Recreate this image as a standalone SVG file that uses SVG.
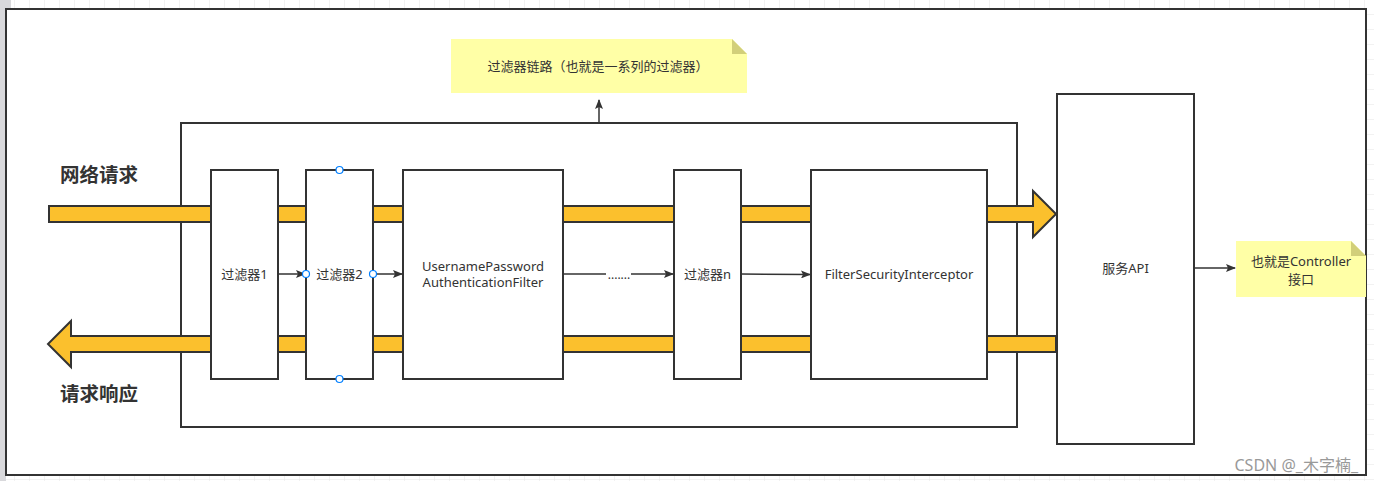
<svg xmlns="http://www.w3.org/2000/svg" width="1374" height="481" viewBox="0 0 1374 481">
<defs>
<style>
.box{fill:#fff;stroke:#333;stroke-width:2}
.band{fill:#fbc02d;stroke:#333;stroke-width:2;stroke-linejoin:miter}
.t{font-family:"Noto Sans","Noto Sans CJK SC",sans-serif;font-size:13px;fill:#333;text-anchor:middle}
.big{font-family:"Noto Sans CJK SC","Noto Sans",sans-serif;font-size:19.5px;font-weight:bold;fill:#333}
.ln{stroke:#333;stroke-width:1.5;fill:none}
.note{fill:#ffffa6}
.fold{fill:#d2cf7a}
.h{fill:#fff;stroke:#007fff;stroke-width:1.2}
</style>
<marker id="ah" markerWidth="10" markerHeight="8" refX="9" refY="4" orient="auto" markerUnits="userSpaceOnUse">
<path d="M0,0 L10,4 L0,8 L2,4 Z" fill="#333"/>
</marker>
<pattern id="grid" width="15" height="15" patternUnits="userSpaceOnUse">
<rect width="15" height="15" fill="#fff"/>
<path d="M15,0 V15 M0,15 H15" stroke="#e6e6e6" stroke-width="1"/>
</pattern>
</defs>
<rect x="0" y="0" width="1374" height="481" fill="url(#grid)"/>
<rect x="0" y="0" width="6" height="481" fill="#d9d9dc"/>
<rect x="0" y="0" width="11" height="9" fill="#d9d9dc"/>
<rect id="frame" x="6" y="9" width="1360" height="466" fill="#fff" stroke="#333" stroke-width="2"/>

<g id="container"><rect x="181" y="123" width="836" height="304" fill="none" stroke="#333" stroke-width="2"/></g>

<g id="bands">
<polygon class="band" points="49,206 1033,206 1033,191 1056,214 1033,237 1033,222 49,222"/>
<polygon class="band" points="1056,336 71,336 71,321 48,344 71,367 71,352 1056,352"/>
</g>

<text class="big" x="60" y="182">网络请求</text>
<text class="big" x="60" y="401">请求响应</text>

<g id="n1"><rect class="box" x="211" y="170" width="67" height="209"/><text class="t" x="244.5" y="279">过滤器1</text></g>
<g id="n2"><rect class="box" x="306" y="170" width="67" height="209"/><text class="t" x="339.5" y="279">过滤器2</text></g>
<g id="n3"><rect class="box" x="403" y="170" width="160" height="209"/><text class="t" x="483" y="271">UsernamePassword</text><text class="t" x="483" y="287">AuthenticationFilter</text></g>
<g id="n4"><rect class="box" x="674" y="170" width="67" height="209"/><text class="t" x="707.5" y="279">过滤器n</text></g>
<g id="n5"><rect class="box" x="811" y="170" width="176" height="209"/><text class="t" x="899" y="279">FilterSecurityInterceptor</text></g>
<g id="n6"><rect class="box" x="1057" y="94" width="137" height="350"/><text class="t" x="1125.5" y="273">服务API</text></g>

<g id="note1">
<polygon class="note" points="451,39 732,39 747,54 747,93 451,93"/>
<polygon class="fold" points="732,39 747,54 732,54"/>
<text class="t" x="598" y="71">过滤器链路（也就是一系列的过滤器）</text>
</g>
<g id="note2">
<polygon class="note" points="1236,241 1351,241 1366,256 1366,297 1236,297"/>
<polygon class="fold" points="1351,241 1366,256 1351,256"/>
<text class="t" x="1301" y="266">也就是Controller</text>
<text class="t" x="1301" y="284">接口</text>
</g>

<g id="connectors">
<line class="ln" x1="599" y1="123" x2="599" y2="100" marker-end="url(#ah)"/>
<line class="ln" x1="278" y1="274" x2="305" y2="274" marker-end="url(#ah)"/>
<line class="ln" x1="373" y1="274" x2="402" y2="274" marker-end="url(#ah)"/>
<line class="ln" x1="563" y1="274" x2="606" y2="274"/>
<line class="ln" x1="631" y1="274" x2="673" y2="274" marker-end="url(#ah)"/>
<line class="ln" x1="741" y1="274" x2="810" y2="274.5" marker-end="url(#ah)"/>
<line class="ln" x1="1194" y1="268" x2="1235" y2="268" marker-end="url(#ah)"/>
<text class="t" x="619" y="279" style="font-size:12px">.......</text>
</g>

<g id="handles">
<circle class="h" cx="306" cy="274" r="3.5"/>
<circle class="h" cx="373" cy="274" r="3.5"/>
<circle class="h" cx="339.5" cy="170" r="3.5"/>
<circle class="h" cx="339.5" cy="379" r="3.5"/>
</g>

<text x="1358" y="471" style="font-family:'Noto Sans','Noto Sans CJK SC',sans-serif;font-size:16px;fill:#999;text-anchor:end">CSDN @_木字楠_</text>
</svg>
